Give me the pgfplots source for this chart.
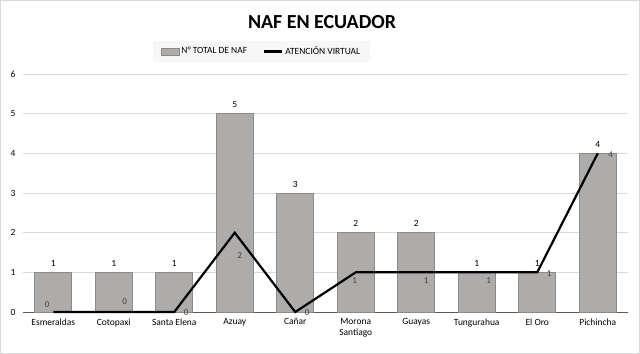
\documentclass[border=0pt]{standalone}
\usepackage{pgfplots}
\pgfplotsset{compat=1.18}
\usepackage{fontspec}
\setmainfont{Carlito}
\definecolor{barfill}{RGB}{174,171,171}
\definecolor{bardraw}{RGB}{140,137,137}
\definecolor{gridc}{RGB}{217,217,217}
\definecolor{lblc}{RGB}{64,64,64}
\begin{document}
\begin{tikzpicture}
\useasboundingbox (0,0) rectangle (640bp,354bp);
\draw[gridc] (0.5bp,0.5bp) rectangle (639.5bp,353.5bp);
\node[font=\bfseries\fontsize{20}{24}\selectfont] at (322bp,332bp) {NAF EN ECUADOR};
\begin{axis}[
  at={(23bp,42bp)}, anchor=south west,
  width=605bp, height=238bp, scale only axis,
  xmin=-0.5, xmax=9.5, ymin=0, ymax=6,
  xtick={0,...,9},
  xticklabels={Esmeraldas,Cotopaxi,Santa Elena,Azuay,Cañar,{Morona\\Santiago},Guayas,Tungurahua,El Oro,Pichincha},
  x tick label style={align=center, font=\fontsize{9.5}{11}\selectfont, yshift=-3bp},
  ytick={0,...,6},
  y tick label style={font=\fontsize{9.5}{11}\selectfont, xshift=-4bp},
  /pgf/number format/assume math mode=true,
  ymajorgrids, grid style={gridc, line width=0.8bp},
  axis x line*=bottom, axis y line*=left,
  x axis line style={draw=gray!70!black, line width=1bp, -},
  y axis line style={draw=none},
  xtick style={draw=none}, ytick style={draw=none},
  legend style={at={(0.394,1.0945)}, anchor=center, legend columns=2, fill=black!3, draw=none,
    font=\fontsize{9.5}{11}\selectfont, /tikz/every even column/.append style={column sep=14bp}, inner xsep=8bp, inner ysep=3.5bp},
  clip=false,
]
\addplot[ybar, bar width=37bp, fill=barfill, draw=bardraw, line width=0.8bp,
  nodes near coords, every node near coord/.append style={font=\fontsize{9.5}{11}\selectfont, text=black, anchor=center, yshift=9bp},
  legend image code/.code={\draw[fill=barfill, draw=bardraw, line width=0.8bp] (0bp,-3.5bp) rectangle (18bp,3.5bp);}]
  coordinates {(0,1) (1,1) (2,1) (3,5) (4,3) (5,2) (6,2) (7,1) (8,1) (9,4)};
\addlegendentry{N° TOTAL DE NAF}
\addplot[black, line width=2.2bp, mark=none,
  nodes near coords,
  visualization depends on={\thisrow{dx} \as \dx},
  visualization depends on={\thisrow{dy} \as \dy},
  every node near coord/.append style={font=\fontsize{9}{11}\selectfont, text=lblc, anchor=center, xshift=\dx bp, yshift=\dy bp},
  legend image code/.code={\draw[black, line width=2.2bp] (0bp,0bp) -- (18bp,0bp);}]
  table[x=x, y=y] {
x y dx dy
0 0 -6 7
1 0 11 10
2 0 12 -1
3 2 5 -23
4 0 12 -1
5 1 -1 -8
6 1 10 -8
7 1 12 -8
8 1 12 -1
9 4 13 -1
};
\addlegendentry{ATENCIÓN VIRTUAL}
\end{axis}
\end{tikzpicture}
\end{document}
